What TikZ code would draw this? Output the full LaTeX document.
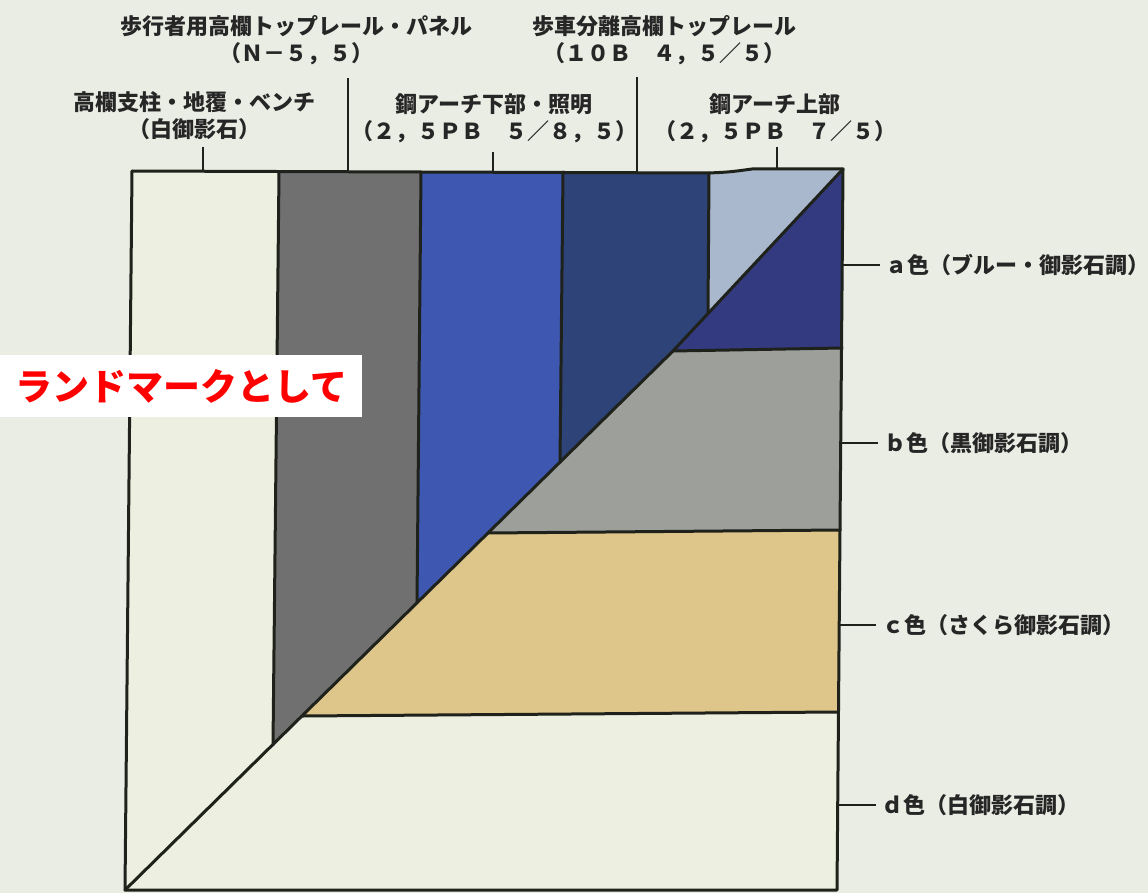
\documentclass[tikz,border=0pt]{standalone}
\usepackage{fontspec}
\newfontfamily\jp{Noto Sans CJK JP}
\definecolor{paper}{RGB}{234,237,228}
\definecolor{stone}{RGB}{237,240,225}
\definecolor{ink}{RGB}{30,34,26}
\definecolor{txt}{RGB}{38,38,38}
\definecolor{colgray}{RGB}{112,112,112}
\definecolor{colblue}{RGB}{62,88,178}
\definecolor{colnavy}{RGB}{46,67,119}
\definecolor{collight}{RGB}{170,184,206}
\definecolor{banda}{RGB}{52,58,128}
\definecolor{bandb}{RGB}{157,159,155}
\definecolor{bandc}{RGB}{222,197,138}
\tikzset{
  edge/.style={draw=ink, line width=3pt, line join=round, line cap=round},
  tickline/.style={draw=ink, line width=2.4pt},
  toplabel/.style={font=\jp\bfseries\fontsize{22}{27}\selectfont, text=txt, align=center, inner sep=0pt},
  sidelabel/.style={font=\jp\bfseries\fontsize{22}{26}\selectfont, text=txt, anchor=west, inner sep=0pt},
  redlabel/.style={fill=white, text=red, font=\jp\bfseries\fontsize{37}{40}\selectfont, minimum width=362pt, minimum height=62pt, inner sep=0pt, anchor=north west}
}
\begin{document}
\begin{tikzpicture}[x=1pt,y=-1pt]
\fill[paper] (0,0) rectangle (1148,893);
\useasboundingbox (0,0) rectangle (1148,893);
% frame points
\coordinate (TL) at (132,171);
\coordinate (T4) at (709,173);
\coordinate (Tb) at (752,169);
\coordinate (TR) at (843,169);
\coordinate (BR) at (837,890);
\coordinate (BL) at (125,890);
\coordinate (M) at (673,351);
% column boundaries
\coordinate (c1t) at (279,172); \coordinate (c1b) at (273,745);
\coordinate (c2t) at (421,172); \coordinate (c2b) at (417,603);
\coordinate (c3t) at (563,172); \coordinate (c3b) at (560,462);
\coordinate (c4t) at (709,173); \coordinate (c4b) at (708,313);
% band boundaries
\coordinate (abR) at (842,348);
\coordinate (bcL) at (488,533); \coordinate (bcR) at (840,530);
\coordinate (cdL) at (303,716); \coordinate (cdR) at (838,712);
% fills
\fill[stone] (TL) -- (T4) -- (Tb) -- (TR) -- (BR) -- (BL) -- cycle;
\fill[colgray] (c1t) -- (c2t) -- (c2b) -- (c1b) -- cycle;
\fill[colblue] (c2t) -- (c3t) -- (c3b) -- (c2b) -- cycle;
\fill[colnavy] (c3t) -- (c4t) -- (c4b) -- (M) -- (c3b) -- cycle;
\fill[collight] (c4t) -- (Tb) -- (TR) -- (c4b) -- cycle;
\fill[banda] (M) -- (TR) -- (abR) -- cycle;
\fill[bandb] (M) -- (abR) -- (bcR) -- (bcL) -- cycle;
\fill[bandc] (bcL) -- (bcR) -- (cdR) -- (cdL) -- cycle;
% strokes
\draw[edge] (TL) -- (T4) .. controls (730,172) .. (Tb) -- (TR) -- (BR) -- (BL) -- cycle;
\draw[edge] (BL) -- (M) -- (TR);
\draw[edge] (c1t) -- (c1b);
\draw[edge] (c2t) -- (c2b);
\draw[edge] (c3t) -- (c3b);
\draw[edge] (c4t) -- (c4b);
\draw[edge] (M) -- (abR);
\draw[edge] (bcL) -- (bcR);
\draw[edge] (cdL) -- (cdR);
% top labels
\node[toplabel] (L1) at (194,115.5) {高欄支柱・地覆・ベンチ\\（白御影石）};
\node[toplabel] (L2) at (296,40.5) {歩行者用高欄トップレール・パネル\\（Ｎ－５，５）};
\node[toplabel] (L3) at (494,118.5) {鋼アーチ下部・照明\\（２，５ＰＢ　５／８，５）};
\node[toplabel] (L4) at (664,40) {歩車分離高欄トップレール\\（１０Ｂ　４，５／５）};
\node[toplabel] (L5) at (775,118.5) {鋼アーチ上部\\（２，５ＰＢ　７／５）};
\coordinate (t1a) at (203,147); \coordinate (t1b) at (203,171);
\coordinate (t2a) at (348,78);  \coordinate (t2b) at (348,172);
\coordinate (t3a) at (493,152); \coordinate (t3b) at (493,172);
\coordinate (t4a) at (637,77);  \coordinate (t4b) at (637,172);
\coordinate (t5a) at (777,147); \coordinate (t5b) at (777,169);
\draw[tickline] (t1a) -- (t1b);
\draw[tickline] (t2a) -- (t2b);
\draw[tickline] (t3a) -- (t3b);
\draw[tickline] (t4a) -- (t4b);
\draw[tickline] (t5a) -- (t5b);
% side labels
\coordinate (sa0) at (842,265); \coordinate (sa1) at (880,265);
\coordinate (sb0) at (841,443); \coordinate (sb1) at (878,443);
\coordinate (sc0) at (839,625); \coordinate (sc1) at (876,625);
\coordinate (sd0) at (838,805); \coordinate (sd1) at (876,805);
\draw[tickline] (sa0) -- (sa1);
\draw[tickline] (sb0) -- (sb1);
\draw[tickline] (sc0) -- (sc1);
\draw[tickline] (sd0) -- (sd1);
\node[sidelabel] (la) at (885,265) {ａ色（ブルー・御影石調）};
\node[sidelabel] (lb) at (884,443) {ｂ色（黒御影石調）};
\node[sidelabel] (lc) at (882,625) {ｃ色（さくら御影石調）};
\node[sidelabel] (ld) at (881,805) {ｄ色（白御影石調）};
% red label
\node[redlabel] (lm) at (0,355) {ランドマークとして};
\end{tikzpicture}
\end{document}
